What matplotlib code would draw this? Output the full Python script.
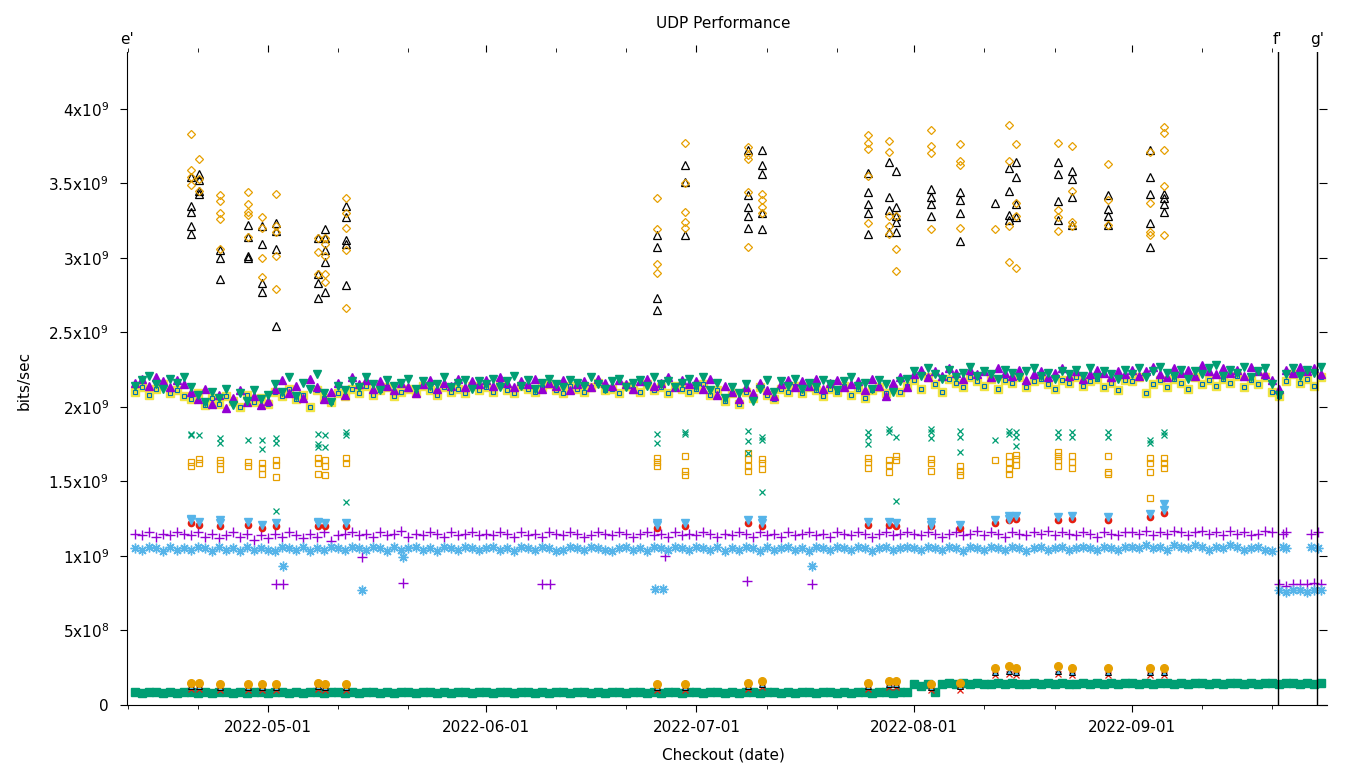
import numpy as np
import pandas as pd
import matplotlib
matplotlib.use('Agg')
import matplotlib.pyplot as plt
import matplotlib.dates as mdates
from matplotlib.ticker import MultipleLocator, FuncFormatter
from matplotlib.transforms import blended_transform_factory

# ---- dense daily series (values in units of 1e9 bits/sec), 2022-04-12 .. 2022-09-28
days = pd.date_range('2022-04-12', '2022-09-28', freq='D')

tri_vals = ([2.16, 2.19, 2.14, 2.20, 2.17, 2.13, 2.18, 2.15, 2.10, 2.05, 2.12, 2.02, 2.08, 1.99, 2.06, 2.11, 2.03, 2.07, 2.01]
            + [2.04, 2.12, 2.18, 2.09, 2.14, 2.06, 2.19, 2.13, 2.05, 2.10, 2.16, 2.08, 2.20, 2.15, 2.18, 2.12, 2.17, 2.14, 2.11, 2.16,
               2.13, 2.09, 2.15, 2.18, 2.12, 2.16, 2.14, 2.19, 2.13, 2.17, 2.15]
            + [2.18, 2.14, 2.20, 2.16, 2.13, 2.17, 2.15, 2.19, 2.12, 2.16, 2.14, 2.18, 2.11, 2.15, 2.17, 2.13, 2.19, 2.16, 2.14, 2.18,
               2.15, 2.12, 2.17, 2.19, 2.14, 2.16, 2.20, 2.13, 2.18, 2.15]
            + [2.17, 2.12, 2.19, 2.08, 2.14, 2.10, 2.05, 2.13, 2.09, 2.16, 2.11, 2.07, 2.15, 2.18, 2.13, 2.17, 2.14, 2.19, 2.12, 2.16,
               2.18, 2.13, 2.15, 2.17, 2.11, 2.19, 2.14, 2.07, 2.16, 2.20, 2.13]
            + [2.22, 2.25, 2.20, 2.24, 2.21, 2.26, 2.23, 2.19, 2.25, 2.22, 2.24, 2.20, 2.26, 2.23, 2.21, 2.25, 2.18, 2.22, 2.24, 2.20,
               2.23, 2.26, 2.21, 2.24, 2.19, 2.22, 2.25, 2.23, 2.20, 2.24, 2.22]
            + [2.25, 2.21, 2.24, 2.27, 2.22, 2.20, 2.26, 2.23, 2.25, 2.21, 2.28, 2.24, 2.22, 2.26, 2.23, 2.25, 2.21, 2.27, 2.24, 2.22,
               2.18, 2.12, 2.25, 2.23, 2.27, 2.24, 2.26, 2.22])

grn_vals = ([2.14, 2.18, 2.21, 2.15, 2.12, 2.19, 2.16, 2.20, 2.13, 2.08, 2.03, 2.10, 2.06, 2.12, 2.01, 2.09, 2.04, 2.11, 2.05]
            + [2.08, 2.15, 2.10, 2.20, 2.07, 2.16, 2.12, 2.22, 2.09, 2.03, 2.14, 2.11, 2.17, 2.13, 2.20, 2.15, 2.11, 2.18, 2.14, 2.16,
               2.19, 2.12, 2.17, 2.14, 2.15, 2.20, 2.13, 2.16, 2.18, 2.12, 2.17]
            + [2.15, 2.19, 2.13, 2.17, 2.21, 2.14, 2.18, 2.12, 2.16, 2.19, 2.15, 2.13, 2.18, 2.16, 2.14, 2.20, 2.15, 2.12, 2.17, 2.19,
               2.13, 2.16, 2.18, 2.14, 2.20, 2.15, 2.17, 2.13, 2.16, 2.19]
            + [2.14, 2.20, 2.11, 2.16, 2.06, 2.13, 2.09, 2.15, 2.04, 2.12, 2.18, 2.10, 2.17, 2.14, 2.19, 2.12, 2.16, 2.13, 2.18, 2.15,
               2.11, 2.17, 2.20, 2.14, 2.16, 2.12, 2.18, 2.15, 2.10, 2.17, 2.19]
            + [2.24, 2.21, 2.26, 2.22, 2.19, 2.25, 2.20, 2.23, 2.27, 2.21, 2.24, 2.22, 2.19, 2.25, 2.23, 2.20, 2.24, 2.26, 2.21, 2.23,
               2.19, 2.24, 2.22, 2.25, 2.21, 2.26, 2.20, 2.24, 2.22, 2.19, 2.25]
            + [2.22, 2.26, 2.20, 2.24, 2.27, 2.23, 2.21, 2.25, 2.19, 2.24, 2.22, 2.26, 2.28, 2.21, 2.25, 2.23, 2.27, 2.20, 2.24, 2.26,
               2.15, 2.08, 2.22, 2.26, 2.21, 2.25, 2.23, 2.27])

yel_vals = ([2.10, 2.13, 2.08, 2.12, 2.15, 2.09, 2.11, 2.07, 2.05, 2.09, 2.01, 2.06, 2.02, 2.07, 2.04, 2.00, 2.08, 2.03, 2.06]
            + [2.02, 2.10, 2.07, 2.12, 2.05, 2.08, 2.00, 2.11, 2.06, 2.03, 2.09, 2.07, 2.12, 2.09, 2.14, 2.08, 2.11, 2.13, 2.07, 2.10,
               2.12, 2.09, 2.14, 2.11, 2.08, 2.13, 2.10, 2.12, 2.09, 2.14, 2.11]
            + [2.13, 2.10, 2.15, 2.11, 2.09, 2.14, 2.12, 2.10, 2.13, 2.15, 2.11, 2.09, 2.14, 2.12, 2.10, 2.13, 2.16, 2.11, 2.12, 2.09,
               2.14, 2.12, 2.10, 2.15, 2.11, 2.13, 2.09, 2.14, 2.12, 2.10]
            + [2.12, 2.15, 2.08, 2.11, 2.04, 2.09, 2.02, 2.10, 2.06, 2.13, 2.08, 2.05, 2.12, 2.10, 2.14, 2.09, 2.13, 2.11, 2.07, 2.12,
               2.10, 2.14, 2.08, 2.12, 2.06, 2.11, 2.13, 2.09, 2.12, 2.10, 2.14]
            + [2.18, 2.12, 2.20, 2.15, 2.10, 2.19, 2.16, 2.13, 2.20, 2.17, 2.14, 2.19, 2.12, 2.18, 2.16, 2.20, 2.13, 2.17, 2.19, 2.15,
               2.12, 2.18, 2.16, 2.20, 2.14, 2.17, 2.19, 2.13, 2.16, 2.11, 2.18]
            + [2.17, 2.20, 2.09, 2.15, 2.18, 2.13, 2.19, 2.16, 2.12, 2.20, 2.15, 2.18, 2.14, 2.19, 2.16, 2.21, 2.13, 2.18, 2.15, 2.20,
               2.10, 2.07, 2.17, 2.22, 2.16, 2.19, 2.14, 2.20])

plus_vals = ([1.15, 1.14, 1.16, 1.13, 1.15, 1.14, 1.16, 1.15, 1.14, 1.16, 1.13, 1.15, 1.12, 1.14, 1.16, 1.13, 1.15, 1.11, 1.14]
             + [1.12, 1.15, 1.13, 1.16, 1.14, 1.12, 1.15, 1.13, 1.16, 1.10, 1.14, 1.15, 1.16, 1.14, 1.15, 1.13, 1.16, 1.14, 1.15, 1.17,
                1.13, 1.15, 1.14, 1.16, 1.15, 1.13, 1.16, 1.14, 1.15, 1.16, 1.14]
             + [1.15, 1.14, 1.16, 1.15, 1.13, 1.16, 1.14, 1.15, 1.13, 1.16, 1.15, 1.14, 1.16, 1.15, 1.13, 1.14, 1.16, 1.15, 1.14, 1.16,
                1.15, 1.13, 1.15, 1.16, 1.14, 1.15, 1.13, 1.16, 1.14, 1.15]
             + [1.14, 1.16, 1.15, 1.13, 1.15, 1.14, 1.16, 1.15, 1.13, 1.16, 1.14, 1.15, 1.13, 1.16, 1.14, 1.15, 1.16, 1.14, 1.15, 1.13,
                1.16, 1.15, 1.14, 1.16, 1.15, 1.13, 1.15, 1.16, 1.14, 1.15, 1.16]
             + [1.15, 1.14, 1.16, 1.15, 1.13, 1.15, 1.16, 1.14, 1.15, 1.17, 1.14, 1.16, 1.15, 1.13, 1.16, 1.15, 1.14, 1.16, 1.15, 1.17,
                1.14, 1.16, 1.15, 1.14, 1.16, 1.15, 1.13, 1.16, 1.15, 1.14, 1.16]
             + [1.16, 1.15, 1.17, 1.14, 1.16, 1.15, 1.17, 1.16, 1.14, 1.16, 1.17, 1.15, 1.16, 1.14, 1.17, 1.15, 1.16, 1.14, 1.15, 1.17,
                1.16, 0.81, 0.80, 0.81, 0.81, 0.81, 0.82, 0.81])

star_vals = ([1.05, 1.04, 1.06, 1.05, 1.03, 1.06, 1.04, 1.05, 1.04, 1.06, 1.05, 1.03, 1.06, 1.04, 1.05, 1.03, 1.06, 1.04, 1.05]
             + [1.04, 1.03, 1.06, 1.05, 1.04, 1.06, 1.03, 1.05, 1.04, 1.06, 1.05, 1.04, 1.06, 1.05, 1.04, 1.06, 1.05, 1.03, 1.06, 1.04,
                1.05, 1.06, 1.04, 1.05, 1.03, 1.06, 1.05, 1.04, 1.06, 1.05, 1.04]
             + [1.05, 1.06, 1.04, 1.05, 1.03, 1.06, 1.05, 1.04, 1.06, 1.05, 1.03, 1.04, 1.06, 1.05, 1.04, 1.06, 1.05, 1.04, 1.03, 1.05,
                1.06, 1.04, 1.05, 1.03, 1.06, 1.05, 1.04, 1.06, 1.05, 1.04]
             + [1.06, 1.05, 1.04, 1.06, 1.03, 1.05, 1.04, 1.06, 1.05, 1.03, 1.06, 1.04, 1.05, 1.06, 1.04, 1.05, 1.03, 1.06, 1.05, 1.04,
                1.06, 1.05, 1.04, 1.06, 1.05, 1.03, 1.05, 1.06, 1.04, 1.05, 1.06]
             + [1.05, 1.04, 1.06, 1.05, 1.04, 1.06, 1.05, 1.03, 1.06, 1.05, 1.04, 1.06, 1.05, 1.04, 1.06, 1.05, 1.03, 1.05, 1.06, 1.04,
                1.05, 1.06, 1.04, 1.05, 1.06, 1.05, 1.04, 1.06, 1.05, 1.04, 1.06]
             + [1.06, 1.05, 1.07, 1.05, 1.06, 1.04, 1.07, 1.06, 1.05, 1.07, 1.06, 1.04, 1.06, 1.05, 1.07, 1.06, 1.04, 1.05, 1.06, 1.04,
                1.03, 0.77, 0.76, 0.77, 0.77, 0.76, 0.77, 0.77])

low_vals = ([0.09, 0.08, 0.09, 0.09, 0.08, 0.09, 0.08, 0.09, 0.09, 0.08, 0.09, 0.08, 0.09, 0.09, 0.08, 0.09, 0.08, 0.09, 0.09]
            + [0.08, 0.09, 0.09, 0.08, 0.09, 0.08, 0.09, 0.09, 0.08, 0.09, 0.09, 0.08, 0.09, 0.08, 0.09, 0.09, 0.08, 0.09, 0.08, 0.09,
               0.09, 0.08, 0.09, 0.09, 0.08, 0.09, 0.08, 0.09, 0.09, 0.08, 0.09]
            + [0.09, 0.08, 0.09, 0.09, 0.08, 0.09, 0.09, 0.08, 0.09, 0.08, 0.09, 0.09, 0.08, 0.09, 0.09, 0.08, 0.09, 0.08, 0.09, 0.09,
               0.08, 0.09, 0.09, 0.08, 0.09, 0.08, 0.09, 0.09, 0.08, 0.09]
            + [0.09, 0.08, 0.09, 0.09, 0.08, 0.09, 0.08, 0.09, 0.09, 0.08, 0.09, 0.09, 0.08, 0.09, 0.08, 0.09, 0.09, 0.08, 0.09, 0.09,
               0.08, 0.09, 0.08, 0.09, 0.09, 0.08, 0.09, 0.09, 0.08, 0.09, 0.09]
            + [0.14, 0.13, 0.14, 0.09, 0.14, 0.15, 0.14, 0.15, 0.14, 0.15, 0.14, 0.14, 0.15, 0.14, 0.15, 0.14, 0.14, 0.15, 0.14, 0.15,
               0.14, 0.15, 0.14, 0.14, 0.15, 0.14, 0.15, 0.14, 0.15, 0.14, 0.15]
            + [0.15, 0.14, 0.15, 0.14, 0.15, 0.15, 0.14, 0.15, 0.14, 0.15, 0.15, 0.14, 0.15, 0.14, 0.15, 0.15, 0.14, 0.15, 0.14, 0.15,
               0.15, 0.14, 0.15, 0.15, 0.14, 0.15, 0.14, 0.15])

# off-band single points of the purple (+) and sky-blue (*) series
plus_extra_dates = ['2022-05-02 03:00', '2022-05-03 03:00', '2022-05-14 10:00', '2022-05-20 05:00', '2022-06-09 00:00',
                    '2022-06-10 05:00', '2022-06-26 14:00', '2022-07-08 05:00', '2022-07-17 12:00',
                    '2022-09-22 12:00', '2022-09-23 00:00', '2022-09-26 12:00', '2022-09-27 12:00']
plus_extra_vals = [0.81, 0.81, 0.99, 0.82, 0.81, 0.81, 1.00, 0.83, 0.81, 1.15, 1.16, 1.15, 1.16]
star_extra_dates = ['2022-05-03 03:00', '2022-05-14 10:00', '2022-05-20 05:00', '2022-06-25 03:00', '2022-06-26 07:00',
                    '2022-07-17 12:00', '2022-09-22 12:00', '2022-09-23 00:00', '2022-09-26 12:00', '2022-09-27 12:00']
star_extra_vals = [0.93, 0.77, 0.99, 0.78, 0.78, 0.93, 1.06, 1.05, 1.06, 1.05]

# ---- sparse test runs (several values per checkout)
test_dates = ['2022-04-20 01:00', '2022-04-21 04:00', '2022-04-24 04:00', '2022-04-28 04:00', '2022-04-30 04:00',
              '2022-05-02 03:00', '2022-05-08 03:00', '2022-05-09 03:00', '2022-05-12 03:00',
              '2022-06-25 10:00', '2022-06-29 10:00', '2022-07-08 09:00', '2022-07-10 09:00',
              '2022-07-25 11:00', '2022-07-28 11:00', '2022-07-29 11:00', '2022-08-03 11:00', '2022-08-07 14:00',
              '2022-08-12 13:00', '2022-08-14 13:00', '2022-08-15 13:00', '2022-08-21 13:00', '2022-08-23 13:00',
              '2022-08-28 16:00', '2022-09-03 15:00', '2022-09-05 15:00']

black_tri = [[3.54, 3.35, 3.31, 3.21, 3.16], [3.56, 3.52, 3.45, 3.43], [3.05, 3.00, 2.86], [3.22, 3.14, 3.01, 3.00],
             [3.21, 3.09, 2.83, 2.77], [3.23, 3.18, 3.06, 2.54], [3.13, 2.89, 2.83, 2.73], [3.19, 3.13, 3.05, 2.97, 2.77],
             [3.35, 3.27, 3.12, 3.09, 2.82], [3.15, 3.07, 2.73, 2.65], [3.62, 3.51, 3.15], [3.72, 3.42, 3.34, 3.28, 3.20],
             [3.72, 3.62, 3.56, 3.30, 3.19], [3.57, 3.44, 3.36, 3.30, 3.16], [3.64, 3.41, 3.32, 3.17],
             [3.58, 3.34, 3.28, 3.24, 3.17], [3.46, 3.41, 3.36, 3.28], [3.44, 3.39, 3.30, 3.11], [3.37],
             [3.60, 3.45, 3.29, 3.25], [3.64, 3.54, 3.36, 3.27], [3.64, 3.56, 3.38, 3.25], [3.58, 3.53, 3.41, 3.22],
             [3.42, 3.33, 3.28, 3.22], [3.72, 3.54, 3.43, 3.23, 3.07], [3.43, 3.40, 3.36, 3.31]]

orange_dia = [[3.83, 3.59, 3.54, 3.49], [3.66, 3.53, 3.45], [3.42, 3.38, 3.30, 3.26, 3.06], [3.44, 3.36, 3.31, 3.29, 3.14],
              [3.27, 3.20, 3.00, 2.87], [3.43, 3.21, 3.17, 3.01, 2.79], [3.13, 3.04, 2.89], [3.13, 3.09, 3.01, 2.89, 2.84],
              [3.40, 3.30, 3.20, 3.05, 2.66], [3.40, 3.19, 2.96, 2.90], [3.77, 3.50, 3.31, 3.24, 3.20],
              [3.74, 3.69, 3.66, 3.44, 3.07], [3.43, 3.39, 3.34, 3.30], [3.82, 3.77, 3.73, 3.55, 3.23],
              [3.78, 3.71, 3.28, 3.21, 3.16], [3.28, 3.06, 2.91], [3.86, 3.75, 3.70, 3.19], [3.76, 3.65, 3.62, 3.20],
              [3.19], [3.89, 3.65, 3.21, 2.97], [3.76, 3.37, 3.28, 2.93], [3.77, 3.32, 3.27, 3.18],
              [3.75, 3.45, 3.24, 3.21], [3.63, 3.39, 3.22], [3.71, 3.37, 3.17, 3.15], [3.88, 3.84, 3.72, 3.48, 3.15]]

green_x = [[1.82, 1.81], [1.81], [1.79, 1.76], [1.78], [1.78, 1.72], [1.79, 1.76, 1.30], [1.82, 1.75, 1.73],
           [1.81, 1.73], [1.83, 1.81, 1.36], [1.82, 1.76], [1.83, 1.82], [1.84, 1.77, 1.69], [1.80, 1.78, 1.43],
           [1.83, 1.80, 1.75], [1.85, 1.83], [1.80, 1.37], [1.85, 1.83, 1.79], [1.84, 1.80, 1.70], [1.78],
           [1.84, 1.82], [1.83, 1.80, 1.74], [1.83, 1.80], [1.83, 1.80], [1.83, 1.80], [1.78, 1.76], [1.83, 1.81]]

orange_sq = [[1.63, 1.60], [1.65, 1.62], [1.64, 1.62, 1.58], [1.63, 1.60], [1.62, 1.59, 1.55], [1.64, 1.61, 1.53],
             [1.66, 1.62, 1.55], [1.64, 1.60, 1.54], [1.66, 1.62], [1.66, 1.63, 1.60], [1.67, 1.57, 1.54],
             [1.69, 1.65, 1.60, 1.57], [1.65, 1.62, 1.58], [1.66, 1.63, 1.59], [1.64, 1.61, 1.56], [1.67, 1.64],
             [1.65, 1.62, 1.57], [1.60, 1.57, 1.54], [1.64], [1.67, 1.63, 1.58, 1.55], [1.68, 1.65, 1.61],
             [1.70, 1.67, 1.64, 1.60], [1.67, 1.63, 1.59], [1.67, 1.56, 1.55], [1.66, 1.62, 1.56, 1.39], [1.66, 1.62, 1.59]]

sky_tri = [[1.25, 1.24], [1.23], [1.24, 1.22], [1.23], [1.21], [1.22], [1.23, 1.22], [1.22], [1.22], [1.22, 1.21],
           [1.22], [1.24], [1.24, 1.22], [1.23], [1.23], [1.22], [1.23, 1.21], [1.21], [1.24], [1.27, 1.25],
           [1.27], [1.26], [1.27], [1.26], [1.28], [1.35, 1.31]]
red_mid = [1.22, 1.21, 1.20, 1.21, 1.19, 1.20, 1.20, 1.20, 1.20, 1.19, 1.20, 1.22, 1.20,
           1.21, 1.21, 1.20, 1.20, 1.19, 1.22, 1.24, 1.25, 1.24, 1.25, 1.24, 1.26, 1.29]

low_orange = [0.15, 0.15, 0.14, 0.14, 0.14, 0.14, 0.15, 0.14, 0.14, 0.14, 0.14, 0.15, 0.16,
              0.15, 0.16, 0.16, 0.14, 0.15, 0.25, 0.26, 0.25, 0.26, 0.25, 0.25, 0.25, 0.25]
low_sky = [0.13, 0.13, 0.12, 0.12, 0.12, 0.12, 0.13, 0.12, 0.12, 0.12, 0.12, 0.13, 0.14,
           0.13, 0.14, 0.14, 0.12, 0.13, 0.22, 0.23, 0.22, 0.23, 0.22, 0.22, 0.22, 0.22]
low_red = [0.11, 0.11, 0.10, 0.10, 0.10, 0.10, 0.11, 0.10, 0.10, 0.10, 0.10, 0.11, 0.12,
           0.11, 0.12, 0.12, 0.10, 0.10, 0.20, 0.21, 0.20, 0.21, 0.20, 0.20, 0.20, 0.20]

marks = {"e'": '2022-04-10 22:00', "f'": '2022-09-21 19:00', "g'": '2022-09-27 09:00'}

PURPLE, GREEN, SKY, ORANGE = '#9400D3', '#009E73', '#56B4E9', '#E69F00'
YELLOW, BLUE, RED = '#F0E442', '#0072B2', '#E51E10'
G = 1e9


def flat(dates, groups):
    xs, ys = [], []
    for d, vs in zip(dates, groups):
        for v in vs:
            xs.append(pd.Timestamp(d))
            ys.append(v * G)
    return xs, ys


td = pd.to_datetime(test_dates)
star_marker = (8, 2, 0)
FS = 11

fig = plt.figure(figsize=(13.6, 7.68), dpi=100)
ax = fig.add_axes([127 / 1360, 1 - 705 / 768, 1200 / 1360, 653 / 768])

# dense bands
ax.plot(days, np.array(low_vals) * G, 's', ms=6, color=GREEN, mec=GREEN, zorder=2)
ax.plot(days, np.array(yel_vals) * G, 's', ms=5.5, color=YELLOW, mec=YELLOW, zorder=2)
ax.plot(days, np.array(yel_vals) * G, 's', ms=3, mfc='none', mec=BLUE, mew=0.8, zorder=2)
ax.plot(days, np.array(tri_vals) * G, '^', ms=5.5, color=PURPLE, zorder=3)
ax.plot(days, np.array(grn_vals) * G, 'v', ms=5.5, color=GREEN, zorder=3)
ax.plot(days, np.array(plus_vals) * G, '+', ms=7.5, mew=1.0, color=PURPLE, zorder=3)
ax.plot(pd.to_datetime(plus_extra_dates), np.array(plus_extra_vals) * G, '+', ms=7.5, mew=1.0, color=PURPLE, zorder=3)
ax.plot(days, np.array(star_vals) * G, marker=star_marker, ls='none', ms=7, mew=1.0, color=SKY, zorder=3)
ax.plot(pd.to_datetime(star_extra_dates), np.array(star_extra_vals) * G, marker=star_marker, ls='none',
        ms=7, mew=1.0, color=SKY, zorder=3)

# sparse runs
x, y = flat(test_dates, orange_sq)
ax.plot(x, y, 's', ms=5, mfc='none', mec=ORANGE, mew=0.9, zorder=4)
x, y = flat(test_dates, green_x)
ax.plot(x, y, 'x', ms=5, mew=0.9, color=GREEN, zorder=4)
ax.plot(td, np.array(red_mid) * G, 'o', ms=4.5, color=RED, zorder=4)
x, y = flat(test_dates, sky_tri)
ax.plot(x, y, 'v', ms=6, color=SKY, zorder=4)
x, y = flat(test_dates, black_tri)
ax.plot(x, y, '^', ms=5.5, mfc='none', mec='black', mew=0.9, zorder=4)
x, y = flat(test_dates, orange_dia)
ax.plot(x, y, 'D', ms=4, mfc='none', mec=ORANGE, mew=0.9, zorder=4)
ax.plot(td, np.array(low_red) * G, 'x', ms=4.5, mew=0.9, color=RED, zorder=4)
ax.plot(td, np.array(low_sky) * G, '^', ms=5, mfc=SKY, mec='black', mew=0.7, zorder=4)
ax.plot(td, np.array(low_orange) * G, 'o', ms=5.5, color=ORANGE, zorder=5)

# vertical markers e', f', g'
trans = blended_transform_factory(ax.transData, ax.transAxes)
for lab, d in marks.items():
    dt = pd.Timestamp(d)
    if lab != "e'":
        ax.axvline(dt, color='black', lw=1.0, zorder=6)
    ax.text(dt, 1 + 12 / 653, lab, transform=trans, ha='center', va='center', fontsize=FS)

ax.set_xlim(pd.Timestamp('2022-04-10 22:00'), pd.Timestamp('2022-09-28 19:00'))
ax.set_ylim(0, 4.38e9)

ax.xaxis.set_major_locator(mdates.MonthLocator())
ax.xaxis.set_major_formatter(mdates.DateFormatter('%Y-%m-%d'))
ax.xaxis.set_minor_locator(mdates.DayLocator(bymonthday=[11, 21]))
ax.yaxis.set_major_locator(MultipleLocator(0.5e9))


def yfmt(v, pos):
    if v <= 0.1:
        return '0' if abs(v) < 0.1 else ''
    e = int(np.floor(np.log10(v) + 1e-9))
    return f'{v / 10 ** e:g}x10$^{{{e}}}$'


ax.yaxis.set_major_formatter(FuncFormatter(yfmt))

for s in ['top', 'right']:
    ax.spines[s].set_visible(False)
ax.tick_params(axis='x', which='both', top=True, direction='out', labelsize=FS, pad=6)
ax.tick_params(axis='x', which='major', length=5)
ax.tick_params(axis='x', which='minor', length=3)
ax.tick_params(axis='y', which='major', direction='out', length=5, labelsize=FS, pad=8)

sec = ax.secondary_yaxis('right')
sec.yaxis.set_major_locator(MultipleLocator(0.5e9))
sec.tick_params(direction='in', length=6, labelright=False)
sec.spines['right'].set_visible(False)

fig.text(723 / 1360, 1 - 24 / 768, 'UDP Performance', ha='center', va='center', fontsize=FS)
fig.text(723 / 1360, 1 - 755 / 768, 'Checkout (date)', ha='center', va='center', fontsize=FS)
fig.text(24 / 1360, 1 - 380 / 768, 'bits/sec', ha='center', va='center', rotation=90, fontsize=FS)

fig.savefig('out.png', dpi=100, facecolor='white')
